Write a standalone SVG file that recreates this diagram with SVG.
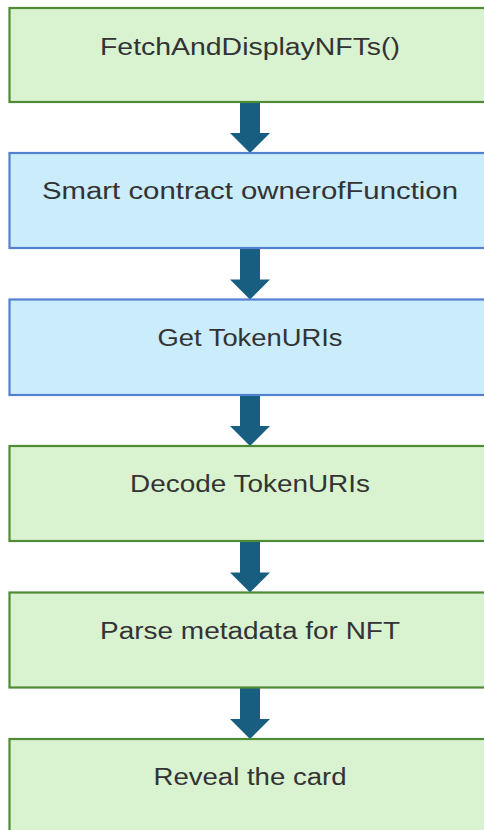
<svg xmlns="http://www.w3.org/2000/svg" width="484" height="830" viewBox="0 0 484 830">
  <style>
    .green { fill: #d9f2d0; stroke: #4f8a35; stroke-width: 2.2; }
    .blue { fill: #caecfb; stroke: #5480d0; stroke-width: 2.2; }
    .label { font-family: "Liberation Sans", Arial, sans-serif; font-size: 23px; fill: #333333; text-anchor: middle; }
    .arrow { fill: #175e80; }
  </style>
  <defs>
    <!-- block arrow pointing down, tip at origin -->
    <path id="down" d="M -10 -51 L 10 -51 L 10 -20 L 20 -20 L 0 0 L -20 -20 L -10 -20 Z"/>
  </defs>
  <rect width="484" height="830" fill="#ffffff"/>

  <g id="connectors" class="arrow">
    <use href="#down" x="250" y="153"/>
    <use href="#down" x="250" y="299.5"/>
    <use href="#down" x="250" y="446"/>
    <use href="#down" x="250" y="592.5"/>
    <use href="#down" x="250" y="739"/>
  </g>

  <g id="fetch">
    <rect class="green" x="9.5" y="8" width="500" height="94"/>
    <text class="label" x="250" y="55" textLength="300" lengthAdjust="spacingAndGlyphs">FetchAndDisplayNFTs()</text>
  </g>
  <g id="owner-of">
    <rect class="blue" x="9.5" y="153" width="500" height="95"/>
    <text class="label" x="250" y="199" textLength="416" lengthAdjust="spacingAndGlyphs">Smart contract ownerofFunction</text>
  </g>
  <g id="get-uris">
    <rect class="blue" x="9.5" y="299.5" width="500" height="95.5"/>
    <text class="label" x="250" y="346" textLength="185" lengthAdjust="spacingAndGlyphs">Get TokenURIs</text>
  </g>
  <g id="decode-uris">
    <rect class="green" x="9.5" y="446" width="500" height="95"/>
    <text class="label" x="250" y="492" textLength="240" lengthAdjust="spacingAndGlyphs">Decode TokenURIs</text>
  </g>
  <g id="parse-metadata">
    <rect class="green" x="9.5" y="592.5" width="500" height="95"/>
    <text class="label" x="250" y="639" textLength="300" lengthAdjust="spacingAndGlyphs">Parse metadata for NFT</text>
  </g>
  <g id="reveal">
    <rect class="green" x="9.5" y="739" width="500" height="120"/>
    <text class="label" x="250" y="785" textLength="193" lengthAdjust="spacingAndGlyphs">Reveal the card</text>
  </g>
</svg>
